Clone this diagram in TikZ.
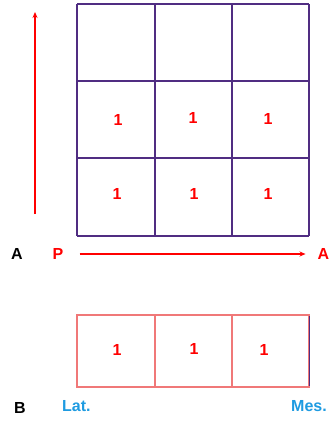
\documentclass[tikz,border=0pt]{standalone}
\usepackage{fontspec}
\usetikzlibrary{arrows.meta}
\setmainfont{Liberation Sans}
\definecolor{gitter}{RGB}{80,45,130}
\definecolor{rosa}{RGB}{240,120,120}
\definecolor{blau}{RGB}{30,155,225}
\tikzset{
    zahl/.style={text=red, font=\fontsize{16}{18}\selectfont\bfseries, inner sep=0pt},
    marke/.style={font=\fontsize{16}{18}\selectfont\bfseries, inner sep=0pt},
    pfeil/.style={red, line width=1.2pt, -{Stealth[length=6pt,width=5pt]}}
}
\begin{document}
\begin{tikzpicture}[x=1pt, y=-1pt]
    \useasboundingbox (0,0) rectangle (330,423);
    % oberes Gitter
    \foreach \x in {77,155,232,309}
        \draw[gitter, line width=1.2pt] (\x,4) -- (\x,236);
    \foreach \y in {4,81,158,236}
        \draw[gitter, line width=1.2pt] (77,\y) -- (309,\y);
    \path node[zahl] (z21) at (118,120) {1}
        node[zahl] (z22) at (193,118) {1}
        node[zahl] (z23) at (268,119) {1}
        node[zahl] (z31) at (117,194) {1}
        node[zahl] (z32) at (194,194) {1}
        node[zahl] (z33) at (268,194) {1};
    % Achsen
    \path node[marke] (A) at (17,254) {A}
        node[marke, text=red] (P) at (58,254) {P}
        node[marke, text=red] (A2) at (323.5,254) {A};
    \coordinate (unten) at (35,214);
    \coordinate (oben) at (35,12);
    \draw[pfeil] (unten) -- (oben);
    \draw[pfeil] ([xshift=16pt]P.east) -- ([xshift=-12pt]A2.west);
    % unterer Streifen
    \draw[rosa, line width=1.2pt] (77,315) rectangle (309,387);
    \draw[rosa, line width=1.2pt] (155,315) -- (155,387);
    \draw[rosa, line width=1.2pt] (232,315) -- (232,387);
    \draw[gitter, line width=0.8pt] (309,316) -- (309,386);
    \path node[zahl] (s1) at (117,350) {1}
        node[zahl] (s2) at (194,349) {1}
        node[zahl] (s3) at (264,350) {1};
    \path node[marke] (B) at (20,408) {B}
        node[marke, text=blau, anchor=west] (lat) at (62,406) {Lat.}
        node[marke, text=blau, anchor=west] (mes) at (291,406) {Mes.};
\end{tikzpicture}
\end{document}
